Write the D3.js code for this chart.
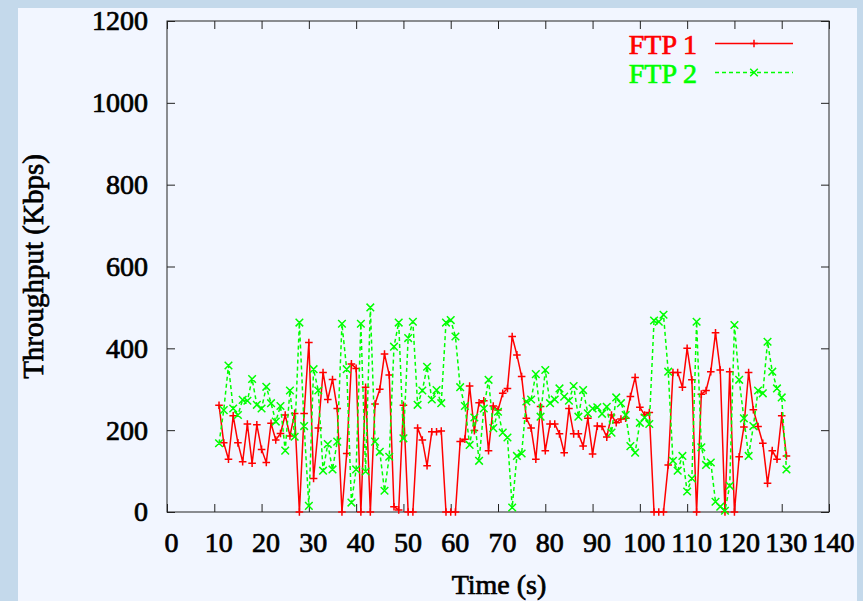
<!DOCTYPE html>
<html>
<head>
<meta charset="utf-8">
<script src="https://cdn.jsdelivr.net/npm/d3@7"></script>
<style>
  html, body { margin: 0; padding: 0; background: #c4d9eb; }
  svg { display: block; }
  text { font-family: "Liberation Serif", "Times New Roman", serif; }
</style>
</head>
<body>
<svg id="chart" width="863" height="601"></svg>
<script>
// Sample times (s)
const seconds = [
  11, 12, 13, 14, 15, 16, 17, 18, 19, 20,
  21, 22, 23, 24, 25, 26, 27, 28, 29, 30,
  31, 32, 33, 34, 35, 36, 37, 38, 39, 40,
  41, 42, 43, 44, 45, 46, 47, 48, 49, 50,
  51, 52, 53, 54, 55, 56, 57, 58, 59, 60,
  61, 62, 63, 64, 65, 66, 67, 68, 69, 70,
  71, 72, 73, 74, 75, 76, 77, 78, 79, 80,
  81, 82, 83, 84, 85, 86, 87, 88, 89, 90,
  91, 92, 93, 94, 95, 96, 97, 98, 99, 100,
  101, 102, 103, 104, 105, 106, 107, 108, 109, 110,
  111, 112, 113, 114, 115, 116, 117, 118, 119, 120,
  121, 122, 123, 124, 125, 126, 127, 128, 129, 130,
  131
];

// Throughput of flow FTP 1 (Kbps)
const ftp1 = [
  261, 169, 129, 235, 169, 123, 215, 119, 213, 153,
  121, 217, 176, 192, 237, 186, 241, 0, 241, 414,
  82, 205, 341, 275, 324, 253, 0, 143, 362, 351,
  0, 305, 0, 264, 300, 386, 335, 13, 5, 261,
  0, 0, 205, 176, 113, 196, 196, 198, 0, 0,
  0, 172, 178, 308, 199, 267, 272, 150, 259, 249,
  290, 302, 429, 384, 331, 229, 205, 129, 258, 150,
  215, 215, 191, 145, 253, 191, 191, 161, 229, 142,
  210, 209, 183, 237, 218, 227, 229, 282, 329, 256,
  237, 243, 0, 0, 0, 115, 341, 341, 305, 400,
  323, 0, 288, 297, 343, 438, 347, 0, 343, 0,
  135, 208, 341, 250, 209, 168, 70, 150, 129, 235,
  137
];

// Throughput of flow FTP 2 (Kbps)
const ftp2 = [
  168, 249, 358, 253, 237, 274, 272, 325, 262, 253,
  306, 266, 221, 259, 150, 297, 184, 463, 210, 15,
  349, 297, 101, 166, 104, 172, 460, 349, 23, 104,
  460, 99, 500, 172, 147, 52, 135, 404, 463, 180,
  425, 465, 262, 297, 355, 275, 298, 266, 463, 469,
  429, 305, 259, 164, 231, 125, 253, 323, 205, 245,
  194, 182, 11, 137, 143, 270, 275, 337, 233, 347,
  266, 275, 302, 282, 272, 308, 233, 298, 241, 253,
  256, 240, 257, 194, 280, 266, 237, 161, 145, 218,
  231, 215, 468, 465, 482, 343, 125, 101, 137, 50,
  82, 465, 158, 115, 121, 25, 13, 3, 64, 457,
  323, 229, 137, 210, 297, 290, 416, 343, 302, 280,
  104
];

const xTicks = [0, 10, 20, 30, 40, 50, 60, 70, 80, 90, 100, 110, 120, 130, 140];
const yTicks = [0, 200, 400, 600, 800, 1000, 1200];

const seriesNames = ["FTP 1", "FTP 2"];
const seriesColors = ["#ff0000", "#00ff00"];

const W = 863, H = 601;
const plot = { left: 167, right: 829, top: 21, bottom: 512 };
const fontSize = 28;
const textStroke = 0.7;

const svg = d3.select("#chart");

// page background and inner panel
svg.append("rect").attr("x", 0).attr("y", 0).attr("width", W).attr("height", H).attr("fill", "#c4d9eb");
svg.append("rect").attr("x", 18).attr("y", 8).attr("width", 839).attr("height", H - 8).attr("fill", "#f2f6ff");

const x = d3.scaleLinear().domain([0, 140]).range([plot.left, plot.right]);
const y = d3.scaleLinear().domain([0, 1200]).range([plot.bottom, plot.top]);

const tickLen = 8;
const plain = d3.format("d");

// bottom axis with labels, ticks pointing inward
const gx = svg.append("g")
  .attr("transform", `translate(0,${plot.bottom})`)
  .call(d3.axisBottom(x).tickValues(xTicks).tickFormat(plain)
    .tickSizeInner(-tickLen).tickSizeOuter(0).tickPadding(20));
// left axis with labels
const gy = svg.append("g")
  .attr("transform", `translate(${plot.left},0)`)
  .call(d3.axisLeft(y).tickValues(yTicks).tickFormat(plain)
    .tickSizeInner(-tickLen).tickSizeOuter(0).tickPadding(19));
// mirrored ticks on top and right
const gt = svg.append("g")
  .attr("transform", `translate(0,${plot.top})`)
  .call(d3.axisTop(x).tickValues(xTicks).tickSizeInner(-tickLen).tickSizeOuter(0).tickFormat(""));
const gr = svg.append("g")
  .attr("transform", `translate(${plot.right},0)`)
  .call(d3.axisRight(y).tickValues(yTicks).tickSizeInner(-tickLen).tickSizeOuter(0).tickFormat(""));

[gx, gy, gt, gr].forEach(g => {
  g.select(".domain").remove();
  g.selectAll(".tick line").attr("stroke", "#222").attr("stroke-width", 1);
  g.selectAll("text")
    .attr("fill", "#000")
    .attr("stroke", "#000")
    .attr("stroke-width", textStroke)
    .style("font-size", fontSize + "px")
    .style("font-family", '"Liberation Serif", serif');
});
gx.selectAll("text").attr("dx", 4);

// plot border
svg.append("rect")
  .attr("x", plot.left).attr("y", plot.top)
  .attr("width", plot.right - plot.left).attr("height", plot.bottom - plot.top)
  .attr("fill", "none").attr("stroke", "#222").attr("stroke-width", 1);

// axis titles
svg.append("text")
  .attr("x", (plot.left + plot.right) / 2 + 1)
  .attr("y", 594)
  .attr("text-anchor", "middle")
  .attr("stroke", "#000").attr("stroke-width", textStroke)
  .style("font-size", fontSize + "px")
  .text("Time (s)");

svg.append("text")
  .attr("transform", `translate(43,${(plot.top + plot.bottom) / 2}) rotate(-90)`)
  .attr("text-anchor", "middle")
  .attr("stroke", "#000").attr("stroke-width", textStroke)
  .style("font-size", "29px")
  .text("Throughput (Kbps)");

// marker shapes
const m = 3.8;
function plusPath(cx, cy) {
  return `M${cx - m},${cy}H${cx + m}M${cx},${cy - m}V${cy + m}`;
}
function crossPath(cx, cy) {
  return `M${cx - m},${cy - m}L${cx + m},${cy + m}M${cx - m},${cy + m}L${cx + m},${cy - m}`;
}

const series = [
  { name: seriesNames[0], values: ftp1, color: seriesColors[0], dash: null, marker: plusPath },
  { name: seriesNames[1], values: ftp2, color: seriesColors[1], dash: "4,3", marker: crossPath }
];

const line = d3.line()
  .x(d => x(d[0]))
  .y(d => y(d[1]));

const legendY = [43.5, 72.5];
const legendTextY = [54, 83];
const lineWidth = 1.5;

series.forEach((s, i) => {
  const pts = seconds.map((t, k) => [t, s.values[k]]);
  const g = svg.append("g");
  g.append("path")
    .attr("d", line(pts))
    .attr("fill", "none")
    .attr("stroke", s.color)
    .attr("stroke-width", lineWidth)
    .attr("stroke-dasharray", s.dash)
    .attr("stroke-linejoin", "miter");
  g.append("path")
    .attr("d", pts.map(p => s.marker(x(p[0]), y(p[1]))).join(""))
    .attr("fill", "none")
    .attr("stroke", s.color)
    .attr("stroke-width", lineWidth);

  // legend entry
  const lg = svg.append("g");
  lg.append("text")
    .attr("x", 697).attr("y", legendTextY[i])
    .attr("text-anchor", "end")
    .attr("fill", s.color)
    .attr("stroke", s.color).attr("stroke-width", textStroke)
    .style("font-size", fontSize + "px")
    .text(s.name);
  lg.append("line")
    .attr("x1", 715).attr("x2", 793)
    .attr("y1", legendY[i]).attr("y2", legendY[i])
    .attr("stroke", s.color)
    .attr("stroke-width", lineWidth)
    .attr("stroke-dasharray", s.dash);
  lg.append("path")
    .attr("d", s.marker(754, legendY[i]))
    .attr("fill", "none")
    .attr("stroke", s.color)
    .attr("stroke-width", lineWidth);
});
</script>
</body>
</html>
